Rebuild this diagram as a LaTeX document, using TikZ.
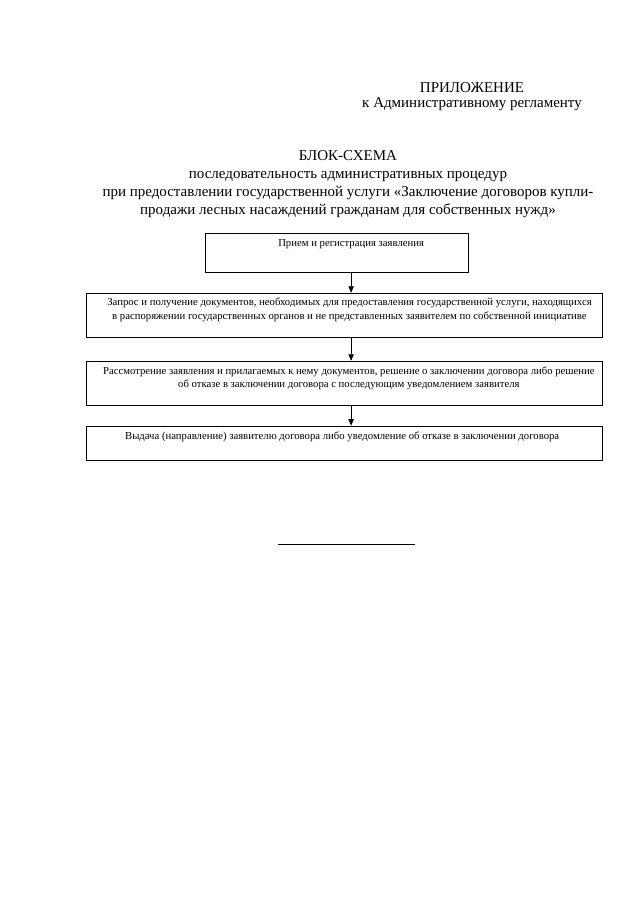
\documentclass[tikz,border=0pt]{standalone}
\usepackage{fontspec}
\setmainfont{Liberation Serif}
\usetikzlibrary{positioning,arrows.meta}

\tikzset{
  heading/.style={font=\fontsize{14}{16.8}\selectfont, align=center, inner sep=0pt},
  stepbox/.style={draw, line width=0.6pt, inner sep=0pt, minimum width=169.3mm},
  boxtext/.style={font=\fontsize{10}{12.5}\selectfont, align=center, inner sep=0pt},
  flowarrow/.style={draw, line width=0.6pt, -{Triangle[length=6pt,width=5pt]}}
}

\begin{document}
\begin{tikzpicture}[x=0.328125mm, y=-0.328125mm]
  \useasboundingbox[fill=white] (0,0) rectangle (640,905);

  % header
  \node[heading] (appx) at (472,88) {ПРИЛОЖЕНИЕ};
  \node[heading, anchor=east] (reglament) at (582,104) {к Административному регламенту};

  % title
  \node[heading, anchor=north] (title) at (348,150)
    {БЛОК-СХЕМА\\
     последовательность административных процедур\\
     при предоставлении государственной услуги «Заключение договоров купли-\\
     продажи лесных насаждений гражданам для собственных нужд»};

  % boxes
  \node[stepbox, minimum width=86.3mm, minimum height=12.8mm] (b1) at (336.5,252.5) {};
  \node[boxtext, below=2.2mm of b1.north, xshift=4.8mm] (t1) {Прием и регистрация заявления};

  \node[stepbox, minimum height=14.4mm] (b2) at (344,315) {};
  \node[boxtext, below=1.7mm of b2.north, xshift=1.8mm] (t2)
    {Запрос и получение документов, необходимых для предоставления государственной услуги, находящихся\\
     в распоряжении государственных органов и не представленных заявителем по собственной инициативе};

  \node[stepbox, minimum height=14.4mm] (b3) at (344,383) {};
  \node[boxtext, below=1.9mm of b3.north, xshift=1.6mm] (t3)
    {Рассмотрение заявления и прилагаемых к нему документов, решение о заключении договора либо решение\\
     об отказе в заключении договора с последующим уведомлением заявителя};

  \node[stepbox, minimum height=11.2mm] (b4) at (344,443) {};
  \node[boxtext, below=1.9mm of b4.north, xshift=-0.6mm] (t4)
    {Выдача (направление) заявителю договора либо уведомление об отказе в заключении договора};

  % arrows
  \draw[flowarrow] (b1.south -| t1) -- (b2.north -| t1);
  \draw[flowarrow] (b2.south -| t1) -- (b3.north -| t1);
  \draw[flowarrow] (b3.south -| t1) -- (b4.north -| t1);

  % closing rule
  \draw[line width=0.6pt] (278,544) -- (415,544);
\end{tikzpicture}
\end{document}
